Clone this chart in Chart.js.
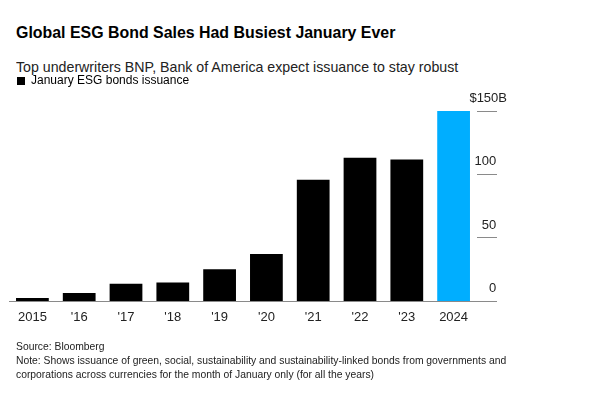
<!DOCTYPE html>
<html lang="en">
<head>
  <meta charset="UTF-8">
  <title>Global ESG Bond Sales Had Busiest January Ever</title>
  <script src="https://cdn.jsdelivr.net/npm/chart.js"></script>
  <style>
    body { margin: 0; width: 600px; height: 400px; position: relative; background: #fff;
           font-family: 'Liberation Sans', Arial, sans-serif; color: #222; }
    .txt { position: absolute; left: 16px; white-space: nowrap; transform-origin: left top; }
    #title { top: 23px; font-size: 17px; font-weight: bold; color: #000; transform: scaleX(0.936); }
    #subtitle { top: 58px; font-size: 15px; transform: scaleX(0.946); }
    #wrap { position: absolute; left: 0; top: 67px; width: 600px; height: 274px; }
    #footer { top: 339px; font-size: 11px; line-height: 14px; transform: scaleX(0.94); }
  </style>
</head>
<body>
  <div id="title" class="txt">Global ESG Bond Sales Had Busiest January Ever</div>
  <div id="subtitle" class="txt">Top underwriters BNP, Bank of America expect issuance to stay robust</div>
  <div id="wrap"><canvas id="esgChart"></canvas></div>
  <div id="footer" class="txt">
    Source: Bloomberg<br>
    Note: Shows issuance of green, social, sustainability and sustainability-linked bonds from governments and<br>
    corporations across currencies for the month of January only (for all the years)
  </div>

  <script>
    // January ESG bond issuance, $B
    const years = ['2015', "'16", "'17", "'18", "'19", "'20", "'21", "'22", "'23", '2024'];
    const issuance = [2.6, 6.6, 14, 14.8, 25.4, 37.3, 95.8, 113.2, 111.7, 150];
    const yTicks = [0, 50, 100, 150];
    const seriesLabel = 'January ESG bonds issuance';

    const FONT = "'Liberation Sans', Arial, sans-serif";
    const barColors = years.map((y, i) => i === years.length - 1 ? '#00aeff' : '#000000');

    // extra room between the legend and the plot
    const legendGap = {
      id: 'legendGap',
      beforeInit(chart) {
        const fit = chart.legend.fit;
        chart.legend.fit = function () {
          fit.call(this);
          this.height += 14;
        };
      }
    };

    new Chart(document.getElementById('esgChart'), {
      type: 'bar',
      data: {
        labels: years,
        datasets: [{
          label: seriesLabel,
          data: issuance,
          backgroundColor: barColors,
          borderWidth: 0,
          categoryPercentage: 0.7,
          barPercentage: 1
        }]
      },
      options: {
        responsive: true,
        maintainAspectRatio: false,
        animation: false,
        layout: { padding: { left: 9, right: 103, top: 0, bottom: 8 } },
        plugins: {
          legend: {
            align: 'start',
            labels: {
              boxWidth: 8,
              boxHeight: 8,
              padding: 8,
              color: '#222',
              font: { family: FONT, size: 12 },
              generateLabels: () => [{
                text: seriesLabel, fillStyle: '#000', strokeStyle: '#000', lineWidth: 0, datasetIndex: 0
              }]
            }
          },
          tooltip: { enabled: false }
        },
        scales: {
          x: {
            grid: { display: false, drawTicks: false },
            border: { display: true, color: '#8a8a8a', width: 1 },
            ticks: { color: '#222', padding: 8, font: { family: FONT, size: 13 }, maxRotation: 0 }
          },
          y: {
            position: 'right',
            min: 0,
            max: 150,
            afterBuildTicks: axis => { axis.ticks = yTicks.map(v => ({ value: v })); },
            afterFit: axis => { axis.width = 20; },
            grid: { drawOnChartArea: false, drawTicks: true, tickLength: 20, color: '#8a8a8a', lineWidth: 1 },
            border: { display: false },
            ticks: {
              color: '#222',
              mirror: true,
              padding: 30,
              labelOffset: -13,
              font: { family: FONT, size: 13 },
              callback: v => v === 150 ? '$150B' : v + '   '
            }
          }
        }
      },
      plugins: [legendGap]
    });
  </script>
</body>
</html>
